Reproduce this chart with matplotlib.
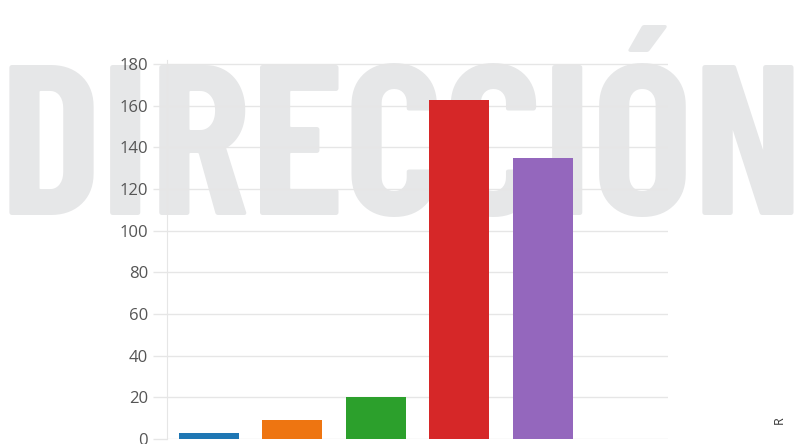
import matplotlib
matplotlib.use("Agg")
import matplotlib.pyplot as plt

# bar data (no x labels in the original)
categories = ["A", "B", "C", "D", "E"]
values = [3, 9, 20, 163, 135]
colors = ["#1f77b4", "#ee7511", "#2ca02c", "#d62728", "#9467bd"]
yticks = [0, 20, 40, 60, 80, 100, 120, 140, 160, 180]

plt.rcParams['font.family'] = ['Open Sans', 'DejaVu Sans']

fig = plt.figure(figsize=(7.94, 4.44), dpi=100)

# watermark behind the chart
fig.text(0.506, 0.5158, "DIRECCIÓN", fontsize=154, family="Barlow Condensed",
         weight=700, color="#e6e7e8", ha="center", va="baseline", zorder=-1)

ax = fig.add_axes([0.2103, 0.0113, 0.631, 0.8536])
ax.patch.set_alpha(0)

x = list(range(len(categories)))
ax.bar(x, values, width=0.72, color=colors, zorder=2)

ax.set_xlim(-0.5, 5.5)
ax.set_ylim(0, 182)
ax.set_yticks(yticks)
ax.set_xticks([])

ax.grid(axis='y', color='#e6e6e6', linewidth=1)
ax.set_axisbelow(True)
for s in ['top', 'right', 'bottom']:
    ax.spines[s].set_visible(False)
ax.spines['left'].set_color('#e6e6e6')
ax.tick_params(axis='y', length=10, width=1, color='#e6e6e6',
               labelcolor='#555555', labelsize=12, pad=3.5)

fig.text(0.981, 0.045, "R", rotation=90, fontsize=9, color='#333333',
         ha='center', va='bottom')

fig.savefig("out.png", dpi=100)
